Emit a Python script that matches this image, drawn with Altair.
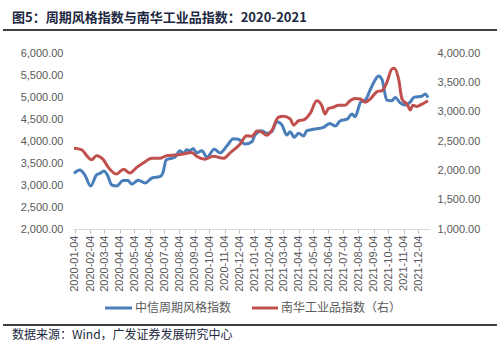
import altair as alt
import pandas as pd

# ---------------- data ----------------
blue_dates = [
    "2020-01-02", "2020-01-14", "2020-01-24", "2020-02-05", "2020-02-17", "2020-02-24",
    "2020-03-03", "2020-03-10", "2020-03-19", "2020-03-29", "2020-04-11", "2020-04-21",
    "2020-04-29", "2020-05-12", "2020-05-26", "2020-06-09", "2020-06-25", "2020-07-01",
    "2020-07-08", "2020-07-16", "2020-07-26", "2020-08-05", "2020-08-12", "2020-08-19",
    "2020-08-26", "2020-09-01", "2020-09-08", "2020-09-19", "2020-09-29", "2020-10-14",
    "2020-10-26", "2020-11-09", "2020-11-22", "2020-12-02", "2020-12-16", "2020-12-30",
    "2021-01-05", "2021-01-19", "2021-01-29", "2021-02-08", "2021-02-19", "2021-03-01",
    "2021-03-11", "2021-03-18", "2021-03-26", "2021-04-04", "2021-04-14", "2021-04-21",
    "2021-05-04", "2021-05-25", "2021-06-07", "2021-06-18", "2021-06-28", "2021-07-12",
    "2021-07-22", "2021-07-28", "2021-08-09", "2021-08-18", "2021-08-28", "2021-09-07",
    "2021-09-14", "2021-09-21", "2021-10-01", "2021-10-11", "2021-10-18", "2021-10-28",
    "2021-11-08", "2021-11-18", "2021-11-25", "2021-12-12", "2021-12-18", "2021-12-24",
]
blue_vals = [
    3265, 3340, 3230, 2977, 3230, 3265,
    3318, 3230, 3000, 2977, 3100, 3100,
    3020, 3110, 3045, 3160, 3190, 3265,
    3570, 3600, 3630, 3780, 3720, 3800,
    3780, 3830, 3730, 3780, 3630, 3810,
    3730, 3890, 4050, 4040, 3930, 3985,
    4135, 4235, 4175, 4210, 4440, 4365,
    4135, 4210, 4085, 4175, 4115, 4235,
    4265, 4310, 4400, 4340, 4460, 4495,
    4615, 4550, 4890, 4930, 5160, 5385,
    5480, 5400, 4930, 4915, 4990, 4870,
    4820, 4890, 4990, 5020, 5070, 4990,
]

red_dates = [
    "2020-01-02", "2020-01-18", "2020-01-28", "2020-02-07", "2020-02-17", "2020-03-02",
    "2020-03-12", "2020-03-29", "2020-04-12", "2020-04-25", "2020-05-09", "2020-05-22",
    "2020-06-09", "2020-06-25", "2020-07-09", "2020-07-26", "2020-08-12", "2020-08-29",
    "2020-09-08", "2020-09-25", "2020-10-12", "2020-11-02", "2020-11-15", "2020-12-06",
    "2020-12-19", "2020-12-30", "2021-01-09", "2021-01-19", "2021-01-29", "2021-02-08",
    "2021-02-22", "2021-03-04", "2021-03-18", "2021-03-25", "2021-04-04", "2021-04-14",
    "2021-04-28", "2021-05-11", "2021-05-21", "2021-05-28", "2021-06-04", "2021-06-14",
    "2021-06-24", "2021-07-08", "2021-07-18", "2021-07-28", "2021-08-08", "2021-08-18",
    "2021-08-28", "2021-09-11", "2021-09-21", "2021-10-01", "2021-10-11", "2021-10-16",
    "2021-10-25", "2021-11-01", "2021-11-11", "2021-11-18", "2021-11-23", "2021-12-01",
    "2021-12-12", "2021-12-24",
]
red_vals = [
    2375, 2350, 2250, 2180, 2250, 2180,
    2050, 1937, 2020, 1955, 2050, 2125,
    2205, 2205, 2250, 2260, 2280, 2305,
    2240, 2190, 2240, 2205, 2295, 2450,
    2590, 2580, 2670, 2650, 2600, 2675,
    2905, 2920, 2875, 2770, 2845, 2860,
    2975, 3185, 3110, 2960, 3055, 3075,
    3110, 3110, 3185, 3225, 3215, 3160,
    3215, 3340, 3360, 3500, 3725, 3740,
    3555, 3215, 3130, 3030, 3110, 3090,
    3130, 3185,
]

left_ticks = [2000, 2500, 3000, 3500, 4000, 4500, 5000, 5500, 6000]
right_ticks = [1000, 1500, 2000, 2500, 3000, 3500, 4000]
x_tick_months = [(2020, m) for m in range(1, 13)] + [(2021, m) for m in range(1, 13)]

title_text = "图5：周期风格指数与南华工业品指数：2020-2021"
source_text = "数据来源：Wind，广发证券发展研究中心"
legend_blue = "中信周期风格指数"
legend_red = "南华工业品指数（右）"

BLUE = "#4A7EBB"
RED = "#C0504D"
GRAY = "#595959"
NAVY = "#1C2841"
FONT = "Liberation Sans, Arial, 'Noto Sans CJK SC'"
CJK = "'Noto Sans CJK SC', Liberation Sans"

df_b = pd.DataFrame({"date": blue_dates, "v": blue_vals})
df_r = pd.DataFrame({"date": red_dates, "v": red_vals})
one = pd.DataFrame({"a": [0]})

x_values = [alt.DateTime(year=y, month=m, date=4, utc=True) for y, m in x_tick_months]
x_scale = alt.Scale(type="utc", domain=[alt.DateTime(year=2019, month=12, date=31, utc=True),
                                        alt.DateTime(year=2021, month=12, date=28, utc=True)])
x_axis = alt.Axis(values=x_values, labelExpr="utcFormat(datum.value, '%Y-%m-%d')",
                  labelAngle=270, labelAlign="right", labelBaseline="middle",
                  labelColor=GRAY, labelFontSize=11, labelFont=FONT, domainColor="#D9D9D9",
                  tickColor="#BFBFBF", tickSize=4, labelPadding=2, grid=False, title=None,
                  labelOverlap=False)

blue = alt.Chart(df_b).mark_line(color=BLUE, strokeWidth=3, interpolate="monotone").encode(
    x=alt.X("date:T", scale=x_scale, axis=x_axis),
    y=alt.Y("v:Q", scale=alt.Scale(domain=[2000, 6000], nice=False),
            axis=alt.Axis(orient="left", values=left_ticks, format=",.2f", labelColor=GRAY,
                          labelFontSize=11, labelFont=FONT, domain=False, ticks=False,
                          grid=False, labelPadding=10, title=None)),
)
red = alt.Chart(df_r).mark_line(color=RED, strokeWidth=3, interpolate="monotone").encode(
    x=alt.X("date:T", scale=x_scale, axis=x_axis),
    y=alt.Y("v:Q", scale=alt.Scale(domain=[1000, 4000], nice=False),
            axis=alt.Axis(orient="right", values=right_ticks, format=",.2f", labelColor=GRAY,
                          labelFontSize=11, labelFont=FONT, domain=False, ticks=False,
                          grid=False, labelPadding=7, title=None)),
)

def text(t, x, y, size, color, bold=False, font=CJK):
    return alt.Chart(one).mark_text(text=t, align="left", baseline="middle", fontSize=size,
                                    color=color, font=font,
                                    fontWeight="bold" if bold else "normal").encode(
        x=alt.value(x), y=alt.value(y))

def hline(x1, x2, y, color, w):
    return alt.Chart(one).mark_rule(color=color, strokeWidth=w).encode(
        x=alt.value(x1), x2=alt.value(x2), y=alt.value(y))

deco = [
    text(title_text, -61, -35, 13, NAVY, bold=True),
    hline(-70, 424, -23, "#000000", 1.5),
    hline(32, 59, 255, BLUE, 3),
    text(legend_blue, 62, 255, 12, GRAY),
    hline(179, 205, 255, RED, 3),
    text(legend_red, 208, 255, 12, GRAY),
    hline(-70, 424, 272, "#000000", 1.5),
    text(source_text, -61, 282, 12, NAVY),
]

chart = alt.layer(blue, red, *deco).resolve_scale(y="independent").properties(
    width=357, height=176,
    autosize=alt.AutoSizeParams(type="none"),
    padding={"left": 73, "top": 53, "right": 71, "bottom": 123},
    background="white",
).configure_view(stroke=None)

chart.save("out.html", embed_options={"renderer": "svg", "actions": False})
